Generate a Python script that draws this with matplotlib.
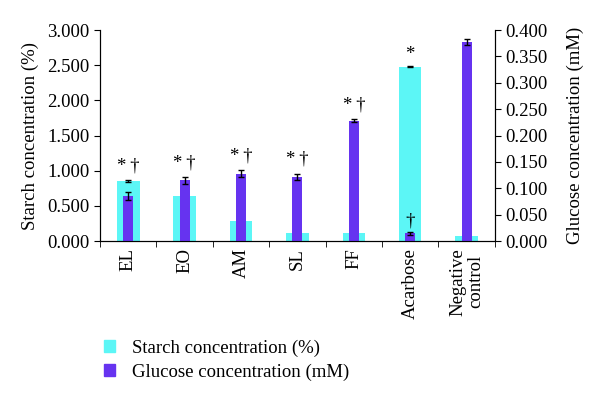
import numpy as np
import matplotlib
matplotlib.use('Agg')
import matplotlib.pyplot as plt
from matplotlib.patches import Patch

plt.rcParams['font.family'] = ['Liberation Serif', 'DejaVu Serif']

categories = ['EL', 'EO', 'AM', 'SL', 'FF', 'Acarbose', 'Negative\ncontrol']
starch = [0.853, 0.640, 0.290, 0.110, 0.118, 2.478, 0.070]
starch_err = [0.008, 0.0, 0.0, 0.0, 0.0, 0.010, 0.0]
glucose = [0.085, 0.115, 0.128, 0.122, 0.228, 0.015, 0.377]
glucose_err = [0.007, 0.006, 0.007, 0.006, 0.003, 0.003, 0.006]
marks = ['*\u2009†', '*\u2009†', '*\u2009†', '*\u2009†', '*\u2009†', '', '']

cyan = '#5CF6F6'
purple = '#6633F0'
fs = 13.5

fig = plt.figure(figsize=(6, 4.01), dpi=100)
ax = fig.add_axes([0.1667, 0.399, 0.658, 0.526])
ax2 = ax.twinx()

x = np.arange(len(categories))
ax.bar(x, starch, width=0.4, color=cyan, zorder=1)
ax.errorbar(x, starch, yerr=starch_err, fmt='none', ecolor='black',
            elinewidth=1, capsize=2.5, capthick=1)
ax2.bar(x, glucose, width=0.18, color=purple, zorder=2)
ax2.errorbar(x, glucose, yerr=glucose_err, fmt='none', ecolor='black',
             elinewidth=1, capsize=2.5, capthick=1)

ax.set_xlim(-0.5, len(categories) - 0.5)
ax.set_ylim(0, 3)
ax2.set_ylim(0, 0.4)
ax.set_yticks(np.arange(0, 3.01, 0.5))
ax.set_yticklabels([f'{v:.3f}' for v in np.arange(0, 3.01, 0.5)])
ax2.set_yticks(np.arange(0, 0.401, 0.05))
ax2.set_yticklabels([f'{v:.3f}' for v in np.arange(0, 0.401, 0.05)])

ax.set_xticks(x)
ax.set_xticklabels(categories, rotation=90, va='top', ha='center',
                   linespacing=1.1)
ax.set_xticks(np.arange(-0.5, len(categories), 1), minor=True)
ax.tick_params(axis='x', which='major', length=0, pad=5, labelsize=fs)
ax.tick_params(axis='x', which='minor', length=4, direction='out')
ax.tick_params(axis='y', labelsize=fs, length=4, direction='out')
ax2.tick_params(axis='y', labelsize=fs, length=4, direction='out')

for a in (ax, ax2):
    a.spines['top'].set_visible(False)
ax.set_ylabel('Starch concentration (%)', fontsize=fs, labelpad=6)
ax2.set_ylabel('Glucose concentration (mM)', fontsize=fs, labelpad=14)

# significance marks
for i, m in enumerate(marks):
    if m:
        top = max(starch[i] + starch_err[i],
                  (glucose[i] + glucose_err[i]) * 7.5)
        ax.text(i, top + 0.08, m, ha='center', va='bottom', fontsize=fs)
ax.text(5, starch[5] + 0.05, '*', ha='center', va='bottom', fontsize=fs)
ax2.text(5, glucose[5] + glucose_err[5] + 0.004, '†', ha='center',
         va='bottom', fontsize=fs)

handles = [Patch(color=cyan, label='Starch concentration (%)'),
           Patch(color=purple, label='Glucose concentration (mM)')]
fig.legend(handles=handles, loc='upper left', bbox_to_anchor=(0.145, 0.195),
           frameon=False, fontsize=fs, handlelength=0.6, handleheight=0.6,
           labelspacing=0.35, handletextpad=0.9)

fig.savefig('out.png', dpi=100)
